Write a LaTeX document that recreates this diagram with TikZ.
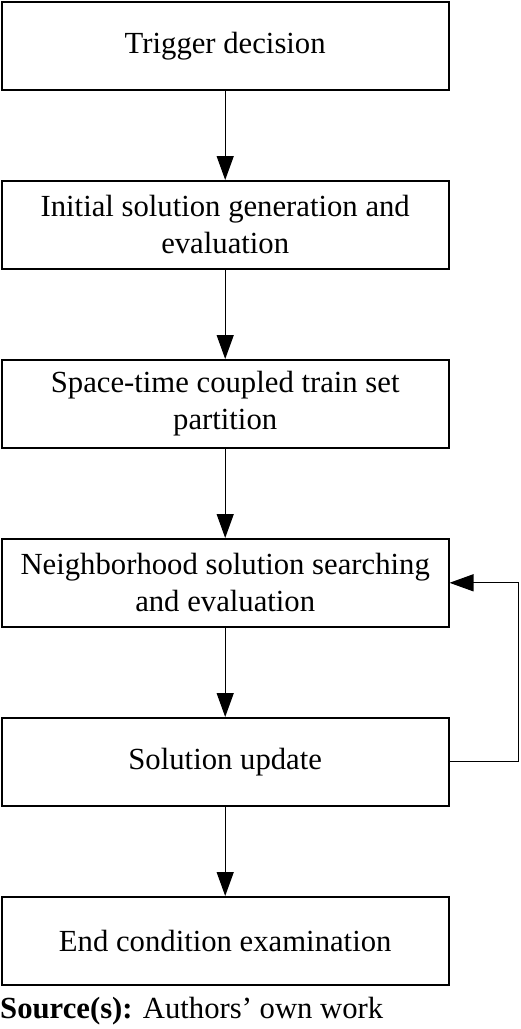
\documentclass[tikz,border=0pt]{standalone}
\usepackage{fontspec}
\setmainfont{Liberation Serif}
\usetikzlibrary{arrows.meta,positioning}
\begin{document}
\begin{tikzpicture}[x=1pt,y=1pt,node distance=179pt,font=\fontsize{30.7}{37}\selectfont]
\tikzstyle{stage}=[draw,line width=1.6pt,minimum width=447pt,minimum height=88pt,align=center,inner sep=0pt]
\tikzstyle{flow}=[line width=1.3pt,-{Triangle[length=24pt,width=17pt]}]
\useasboundingbox (0,0) rectangle (520,-1029);
\node[stage] (trig) at (225.2,-45.8) {Trigger decision};
\node[stage] (init) [below of=trig] {Initial solution generation and\\evaluation};
\node[stage] (part) [below of=init] {Space-time coupled train set\\partition};
\node[stage] (nbr) [below of=part] {Neighborhood solution searching\\and evaluation};
\node[stage] (upd) [below of=nbr] {Solution update};
\node[stage] (endc) [below of=upd] {End condition examination};
\node (src) [anchor=base west,inner sep=0pt] at (0,-1018) {\textbf{Source(s):} Authors' own work};
\draw[flow] (trig) -- (init);
\draw[flow] (init) -- (part);
\draw[flow] (part) -- (nbr);
\draw[flow] (nbr) -- (upd);
\draw[flow] (upd) -- (endc);
\draw[flow] (upd.east) -- ++(69,0) |- (nbr.east);
\end{tikzpicture}
\end{document}
